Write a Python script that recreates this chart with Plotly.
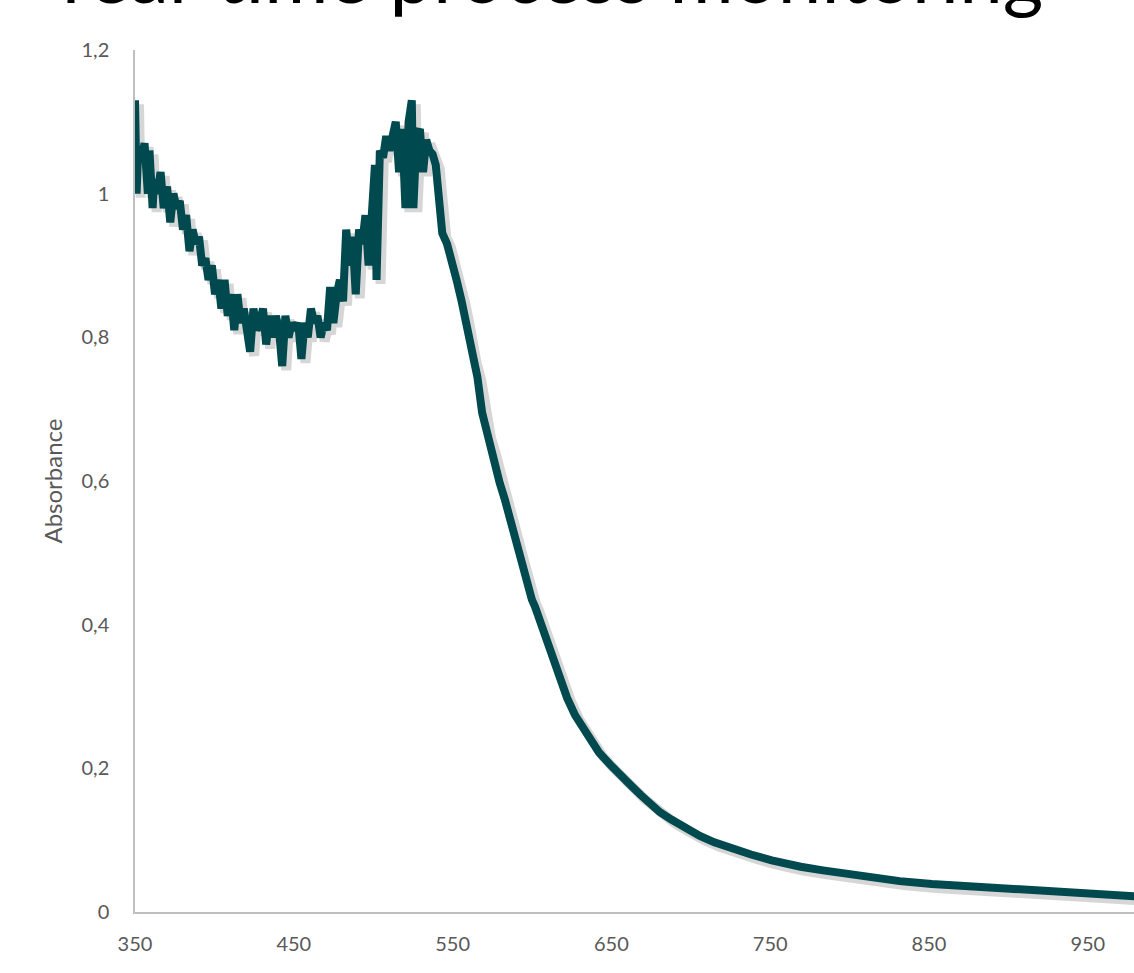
import plotly.graph_objects as go

# ---- data ----
wavelength = [350, 351, 352, 354, 356, 358.1, 359.1, 361.1, 362.1, 364.1, 366.1, 368.1,
              370.2, 372.2, 374.2, 376.2, 378.2, 380.2, 382.2, 384.3, 386.3, 388.3, 390.3,
              392.3, 394.3, 396.3, 398.4, 400.4, 402.4, 404.4, 406.4, 408.4, 410.5, 412.5,
              414.5, 416.5, 418.5, 420.5, 422.5, 424.6, 426.6, 428.6, 430.6, 432.6, 434.6,
              436.7, 438.7, 440.7, 442.7, 444.7, 446.7, 448.7, 450.8, 452.8, 454.8, 456.8,
              458.8, 460.8, 462.9, 464.9, 466.9, 468.9, 470.9, 472.9, 474.9, 477.0, 479.0,
              481.0, 483.0, 485.0, 487.0, 489.0, 491.1, 493.1, 495.1, 497.1, 499.1, 501.1,
              502.1, 504.2, 506.2, 508.2, 510.2, 512.2, 514.2, 516.3, 518.3, 520.3, 522.3,
              524.3, 525.3, 527.3, 529.4, 531.4, 533.4, 535.4, 537.4, 539.4, 540.4, 543.5,
              546.5, 549.5, 552.5, 555.5, 557.6, 559.6, 562.6, 565.6, 568.6, 571.7, 574.7,
              577.7, 579.7, 582.8, 585.8, 588.8, 590.8, 593.8, 596.9, 599.9, 601.9, 604.9,
              607.9, 611.0, 614.0, 618.0, 622.1, 627.1, 632.1, 636.2, 642.2, 649.3, 655.3,
              662.4, 668.4, 674.4, 680.5, 687.5, 693.6, 699.6, 705.7, 714.8, 724.8, 737.9,
              751.0, 760.1, 769.2, 783.3, 800.4, 815.5, 831.6, 851.8, 874.0, 895.1, 910.2,
              926.3, 942.4, 957.6, 969.7, 979.7]
absorbance = [1.13, 1.00, 1.06, 1.05, 1.07, 1.00, 1.06, 0.98, 1.02, 1.00, 1.03, 0.98,
              1.01, 0.96, 1.00, 0.98, 0.99, 0.95, 0.97, 0.92, 0.95, 0.93, 0.94,
              0.90, 0.91, 0.88, 0.90, 0.86, 0.88, 0.84, 0.88, 0.83, 0.86, 0.81,
              0.86, 0.82, 0.84, 0.80, 0.78, 0.84, 0.81, 0.82, 0.84, 0.79, 0.83,
              0.80, 0.83, 0.81, 0.76, 0.83, 0.80, 0.82, 0.81, 0.82, 0.77, 0.82,
              0.80, 0.84, 0.82, 0.83, 0.80, 0.82, 0.81, 0.87, 0.82, 0.86, 0.88,
              0.85, 0.95, 0.90, 0.94, 0.86, 0.95, 0.93, 0.97, 0.90, 1.00, 1.04,
              0.88, 1.06, 1.05, 1.08, 1.06, 1.08, 1.10, 1.03, 1.09, 0.98, 1.10,
              1.13, 0.98, 1.08, 1.09, 1.03, 1.075, 1.06, 1.055, 1.04, 1.015, 0.945,
              0.93, 0.908, 0.88, 0.852, 0.83, 0.80, 0.77, 0.745, 0.695, 0.665, 0.643,
              0.615, 0.597, 0.575, 0.55, 0.525, 0.508, 0.48, 0.46, 0.435, 0.425, 0.406,
              0.385, 0.365, 0.345, 0.323, 0.298, 0.274, 0.255, 0.24, 0.222, 0.205, 0.19,
              0.176, 0.163, 0.151, 0.139, 0.129, 0.121, 0.113, 0.106, 0.097, 0.089, 0.080,
              0.072, 0.067, 0.063, 0.058, 0.052, 0.048, 0.043, 0.039, 0.036, 0.033, 0.031,
              0.029, 0.027, 0.025, 0.023, 0.022]

x_tickvals = [350, 450, 550, 650, 750, 850, 950]
y_tickvals = [0, 0.2, 0.4, 0.6, 0.8, 1.0, 1.2]
y_ticktext = ["0", "0,2", "0,4", "0,6", "0,8", "1", "1,2"]

title_text = "real-time process monitoring"
y_title = "Absorbance"

LINE = "#00494E"
GREY_TXT = "#595959"
AXIS = "#BFBFBF"
FONT = "Lato"

X_RANGE = [350, 979.1]
Y_RANGE = [0, 1.2]
# shadow offset: ~4 px right / down, done by shifting the shadow axes' ranges
px_per_nm = 999 / (X_RANGE[1] - X_RANGE[0])
px_per_abs = 862 / (Y_RANGE[1] - Y_RANGE[0])
sx = 4 / px_per_nm
sy = 4 / px_per_abs

fig = go.Figure()
# shadow (drawn below)
fig.add_trace(go.Scatter(x=wavelength, y=absorbance, mode="lines",
                         line=dict(color="rgba(0,0,0,0.16)", width=10),
                         xaxis="x", yaxis="y", hoverinfo="skip", showlegend=False))
# main line
fig.add_trace(go.Scatter(x=wavelength, y=absorbance, mode="lines",
                         line=dict(color=LINE, width=8),
                         xaxis="x2", yaxis="y2", showlegend=False))

fig.update_layout(
    width=1134, height=973,
    margin=dict(l=135, r=0, t=50, b=61),
    paper_bgcolor="white", plot_bgcolor="white",
    font=dict(family=FONT, color=GREY_TXT, size=20),
    xaxis=dict(range=[X_RANGE[0] - sx, X_RANGE[1] - sx], showline=False, showgrid=False,
               zeroline=False, showticklabels=False, ticks=""),
    yaxis=dict(range=[Y_RANGE[0] + sy, Y_RANGE[1] + sy], showline=False, showgrid=False,
               zeroline=False, showticklabels=False, ticks=""),
    xaxis2=dict(range=X_RANGE, overlaying="x", anchor="y2", side="bottom",
                showline=True, linecolor=AXIS, linewidth=1.5, showgrid=False, zeroline=False,
                tickvals=x_tickvals, ticks="", ticklabelstandoff=13,
                tickfont=dict(family=FONT, size=20, color=GREY_TXT)),
    yaxis2=dict(range=Y_RANGE, overlaying="y", anchor="x2", side="left",
                showline=True, linecolor=AXIS, linewidth=1.5, showgrid=False, zeroline=False,
                tickvals=y_tickvals, ticktext=y_ticktext, ticks="", ticklabelstandoff=20,
                tickfont=dict(family=FONT, size=20, color=GREY_TXT),
                title=dict(text=y_title, font=dict(family=FONT, size=24, color=GREY_TXT),
                           standoff=12)),
    annotations=[dict(text=title_text, xref="paper", yref="paper",
                      x=(552 - 135) / 999, y=1 + (50 - 22) / 862,
                      xanchor="center", yanchor="bottom", showarrow=False,
                      font=dict(family=FONT, size=78, color="black"))],
)

fig.write_html("out.html",
               config={"displayModeBar": False},
               post_script="document.body.style.margin='0';document.body.style.overflow='hidden';")
